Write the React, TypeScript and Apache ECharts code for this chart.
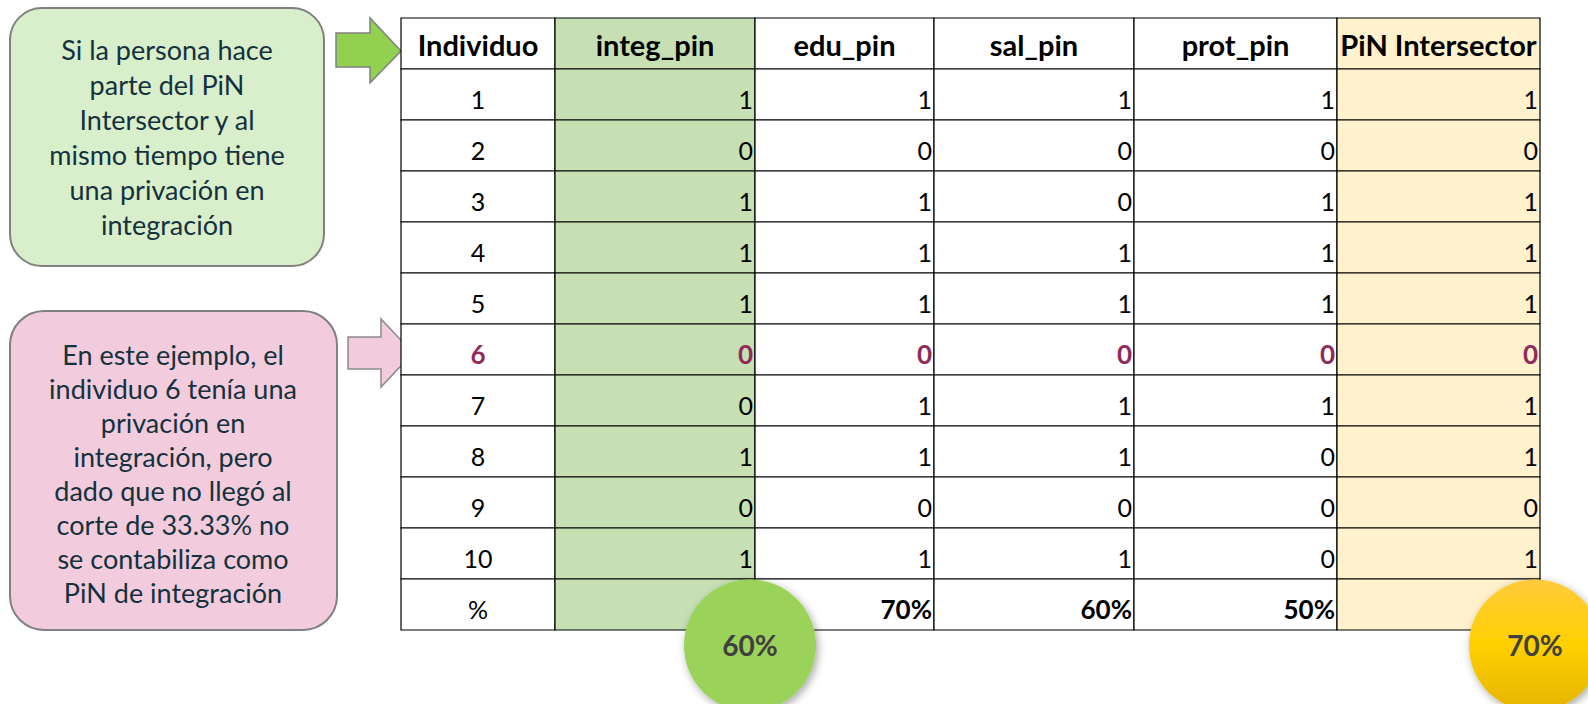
import React, { useEffect, useRef } from 'react';
import * as echarts from 'echarts';

// ---------- data ----------
const columns = ['Individuo', 'integ_pin', 'edu_pin', 'sal_pin', 'prot_pin', 'PiN Intersector'];
const individuos = ['1', '2', '3', '4', '5', '6', '7', '8', '9', '10'];
const integPin = [1, 0, 1, 1, 1, 0, 0, 1, 0, 1];
const eduPin = [1, 0, 1, 1, 1, 0, 1, 1, 0, 1];
const salPin = [1, 0, 0, 1, 1, 0, 1, 1, 0, 1];
const protPin = [1, 0, 1, 1, 1, 0, 1, 0, 0, 0];
const pinIntersector = [1, 0, 1, 1, 1, 0, 1, 1, 0, 1];
const percentLabel = '%';
const percentages = [60, 70, 60, 50, 70]; // integ, edu, sal, prot, PiN
const highlightedIndividuo = '6';
const circledColumns = ['integ_pin', 'PiN Intersector'];

const greenNote = [
  'Si la persona hace',
  'parte del PiN',
  'Intersector y al',
  'mismo tiempo tiene',
  'una privación en',
  'integración',
];
const pinkNote = [
  'En este ejemplo, el',
  'individuo 6 tenía una',
  'privación en',
  'integración, pero',
  'dado que no llegó al',
  'corte de 33.33% no',
  'se contabiliza como',
  'PiN de integración',
];

// ---------- layout / style ----------
const COL_WIDTHS = [154, 200, 179, 200, 203, 203];
const COL_FILLS = ['#ffffff', '#C6E0B4', '#ffffff', '#ffffff', '#ffffff', '#FFF2CC'];
const FONT = 'Lato, "Open Sans", sans-serif';
const HIGHLIGHT_COLOR = '#912A5C';

export default function App() {
  const ref = useRef<HTMLDivElement>(null);

  useEffect(() => {
    if (!ref.current) return;
    const chart = echarts.init(ref.current, undefined, { renderer: 'svg' });

    const valueCols = [integPin, eduPin, salPin, protPin, pinIntersector];
    const rowCats = ['header', ...individuos, percentLabel];

    const starts: number[] = [];
    let acc = 0;
    COL_WIDTHS.forEach((w) => {
      starts.push(acc);
      acc += w;
    });
    const total = acc;

    type Cell = { text: string; bold: boolean; color: string; align: 'center' | 'right'; header: boolean };
    const cellData: number[][] = [];
    const cellInfo: Cell[] = [];
    const circleData: number[][] = [];
    const circleText: string[] = [];

    rowCats.forEach((rc, r) => {
      columns.forEach((col, c) => {
        cellData.push([starts[c], starts[c] + COL_WIDTHS[c], r, c]);
        let text = '';
        let bold = false;
        let color = '#000000';
        let align: 'center' | 'right' = c === 0 ? 'center' : 'right';
        let header = false;
        if (r === 0) {
          text = col;
          bold = true;
          align = 'center';
          header = true;
        } else if (r <= individuos.length) {
          const idx = r - 1;
          text = c === 0 ? individuos[idx] : String(valueCols[c - 1][idx]);
          if (individuos[idx] === highlightedIndividuo) {
            bold = true;
            color = HIGHLIGHT_COLOR;
          }
        } else {
          if (c === 0) text = percentLabel;
          else if (circledColumns.indexOf(col) >= 0) {
            text = '';
            circleData.push([starts[c] + COL_WIDTHS[c], 0, r, c]);
            circleText.push(percentages[c - 1] + '%');
          } else {
            text = percentages[c - 1] + '%';
            bold = true;
          }
        }
        cellInfo.push({ text, bold, color, align, header });
      });
    });

    const option: any = {
      animation: false,
      grid: { left: 401, top: 18, width: total, height: 612, containLabel: false },
      xAxis: { type: 'value', min: 0, max: total, show: false },
      yAxis: { type: 'category', data: rowCats, inverse: true, show: false },
      series: [
        {
          type: 'custom',
          clip: false,
          z: 2,
          data: cellData,
          renderItem: (params: any, api: any) => {
            const x0 = api.value(0);
            const x1 = api.value(1);
            const r = api.value(2);
            const c = api.value(3);
            const p0 = api.coord([x0, r]);
            const p1 = api.coord([x1, r]);
            const h = api.size([0, 1])[1];
            const info = cellInfo[params.dataIndex];
            const top = p0[1] - h / 2;
            const children: any[] = [
              {
                type: 'rect',
                shape: { x: p0[0], y: top, width: p1[0] - p0[0], height: h },
                style: { fill: COL_FILLS[c], stroke: '#000000', lineWidth: 1.2 },
              },
            ];
            if (info.text) {
              children.push({
                type: 'text',
                x: info.align === 'center' ? (p0[0] + p1[0]) / 2 : p1[0] - 2,
                y: info.header ? p0[1] + 1 : p0[1] + 4,
                style: {
                  text: info.text,
                  fill: info.color,
                  fontFamily: FONT,
                  fontSize: info.header ? 29 : info.bold ? 26 : 25,
                  fontWeight: info.bold ? 'bold' : 'normal',
                  align: info.align,
                  verticalAlign: 'middle',
                },
              });
            }
            return { type: 'group', children };
          },
        },
        {
          type: 'custom',
          clip: false,
          z: 5,
          data: circleData,
          renderItem: (params: any, api: any) => {
            const x1 = api.value(0);
            const r = api.value(2);
            const c = api.value(3);
            const p = api.coord([x1, r]);
            const isYellow = c === columns.length - 1;
            const cx = p[0] - 5;
            const cy = p[1] + 41;
            const fill = isYellow
              ? new echarts.graphic.LinearGradient(0, 0, 0, 1, [
                  { offset: 0, color: '#FFCB3D' },
                  { offset: 0.5, color: '#FFD000' },
                  { offset: 1, color: '#E3B400' },
                ])
              : '#9AD25A';
            return {
              type: 'group',
              children: [
                {
                  type: 'circle',
                  shape: { cx, cy, r: 66 },
                  style: {
                    fill,
                    shadowBlur: 8,
                    shadowColor: 'rgba(0,0,0,0.35)',
                    shadowOffsetX: 2,
                    shadowOffsetY: 3,
                  },
                },
                {
                  type: 'text',
                  x: cx,
                  y: cy - 1,
                  style: {
                    text: circleText[params.dataIndex],
                    fill: '#404040',
                    fontFamily: FONT,
                    fontSize: 28,
                    fontWeight: 'bold',
                    align: 'center',
                    verticalAlign: 'middle',
                  },
                },
              ],
            };
          },
        },
      ],
      graphic: [
        {
          type: 'rect',
          shape: { x: 10, y: 8, width: 314, height: 258, r: 32 },
          style: { fill: '#D9EECB', stroke: '#808080', lineWidth: 2 },
        },
        {
          type: 'text',
          x: 167,
          y: 137,
          style: {
            text: greenNote.join('\n'),
            fill: '#14323D',
            fontFamily: FONT,
            fontSize: 27,
            lineHeight: 35,
            align: 'center',
            verticalAlign: 'middle',
          },
        },
        {
          type: 'polygon',
          shape: {
            points: [
              [336, 33],
              [370, 33],
              [370, 18],
              [401, 51],
              [370, 83],
              [370, 67],
              [336, 67],
            ],
          },
          style: { fill: '#92D050', stroke: '#808080', lineWidth: 1.5 },
        },
        {
          type: 'rect',
          shape: { x: 10, y: 311, width: 327, height: 319, r: 34 },
          style: { fill: '#F2CCDD', stroke: '#808080', lineWidth: 2 },
        },
        {
          type: 'text',
          x: 173,
          y: 473,
          style: {
            text: pinkNote.join('\n'),
            fill: '#14323D',
            fontFamily: FONT,
            fontSize: 27,
            lineHeight: 34,
            align: 'center',
            verticalAlign: 'middle',
          },
        },
        {
          type: 'polygon',
          shape: {
            points: [
              [348, 337],
              [381, 337],
              [381, 319],
              [413, 353],
              [381, 387],
              [381, 369],
              [348, 369],
            ],
          },
          style: { fill: '#F2CCDD', stroke: '#8C8C8C', lineWidth: 1.5 },
        },
      ],
    };

    chart.setOption(option);
    return () => chart.dispose();
  }, []);

  return (
    <div
      ref={ref}
      style={{ position: 'absolute', left: 0, top: 0, width: 1588, height: 704, background: '#ffffff' }}
    />
  );
}
